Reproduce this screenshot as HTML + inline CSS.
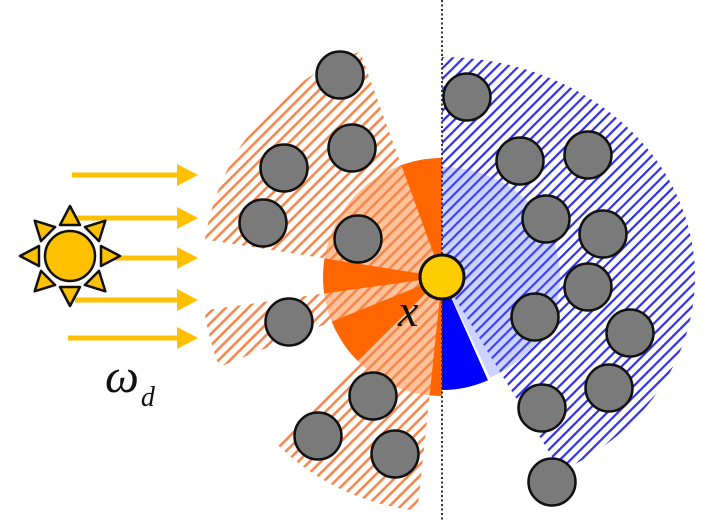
<!DOCTYPE html>
<html><head><meta charset="utf-8"><style>
html,body{margin:0;padding:0;background:#fff;}
svg{display:block;}
</style></head><body>
<svg width="726" height="529" viewBox="0 0 726 529">
<defs>
<pattern id="hatchO" patternUnits="userSpaceOnUse" width="8" height="8" patternTransform="rotate(-45)">
<rect width="8" height="8" fill="rgba(255,255,255,0.6)"/>
<rect width="8" height="2.6" fill="#f5884f"/>
</pattern>
<pattern id="hatchB" patternUnits="userSpaceOnUse" width="7.5" height="7.5" patternTransform="rotate(-45)">
<rect width="7.5" height="2.2" fill="#3030e8"/>
</pattern>
</defs>
<g id="sectors"></g>
<line x1="442" y1="0" x2="442" y2="520" stroke="#333" stroke-width="2" stroke-dasharray="2,2.5"/>
<g id="occluders"></g>
<circle cx="442" cy="277" r="22" fill="#ffcc00" stroke="#111" stroke-width="3"/>
<text x="398" y="326" font-family="'Liberation Serif',serif" font-style="italic" font-size="46" fill="#111">x</text>
<g id="arrows"></g>
<g id="sun"></g>
<text x="105" y="392" font-family="'Liberation Serif',serif" font-style="italic" font-size="48" fill="#111">ω<tspan font-size="28" dx="2" dy="14">d</tspan></text>
</svg>
<script>
const NS='http://www.w3.org/2000/svg';
const cx=442, cy=277;
function P(a,r,ry){const t=a*Math.PI/180;return [cx+r*Math.cos(t),cy+(ry||r)*Math.sin(t)];}
function sector(a0,a1,r,ry){const p0=P(a0,r,ry),p1=P(a1,r,ry);const large=(a1-a0)>180?1:0;
return `M${cx},${cy} L${p0[0]},${p0[1]} A${r},${ry||r} 0 ${large} 1 ${p1[0]},${p1[1]} Z`;}
const g=document.getElementById('sectors');
function add(d,fill,name){const p=document.createElementNS(NS,'path');p.setAttribute('d',d);p.setAttribute('fill',fill);


g.appendChild(p);}
add(sector(-90,62,253,220),'url(#hatchB)','visible-hatched-region');
add(sector(-90,66,118,110),'rgba(90,110,255,0.3)','visible-inner-region');
add(sector(66,90,113),'#0000ff','occluded-inner-blue');
add(sector(90,270,119),'#ff6600','shadow-inner-region');
add(sector(-171,-110,240),'url(#hatchO)','shadow-wedge-upper');
add(sector(158,172,240),'url(#hatchO)','shadow-wedge-middle');
add(sector(96,135,235),'url(#hatchO)','shadow-wedge-lower');
const occX=[340,284,352,263,358,289,373,318,395,467,520,588,546,603,588,535,630,609,542,552];
const occY=[75,168,148,223,239,322,396,436,454,97,161,155,219,234,287,317,333,388,408,482];
const og=document.getElementById('occluders');
for(let i=0;i<occX.length;i++){const c=document.createElementNS(NS,'circle');
c.setAttribute('cx',occX[i]);c.setAttribute('cy',occY[i]);c.setAttribute('r',23.5);
c.setAttribute('fill','#7a7a7a');c.setAttribute('stroke','#111');c.setAttribute('stroke-width','2.5');


og.appendChild(c);}
const arrY=[175,218,258,300,338], arrX0=[72,75,100,75,68];
const ag=document.getElementById('arrows');
for(let i=0;i<arrY.length;i++){const gg=document.createElementNS(NS,'g');


const l=document.createElementNS(NS,'line');l.setAttribute('x1',arrX0[i]);l.setAttribute('x2',180);l.setAttribute('y1',arrY[i]);l.setAttribute('y2',arrY[i]);
l.setAttribute('stroke','#ffc000');l.setAttribute('stroke-width','5');gg.appendChild(l);
const h=document.createElementNS(NS,'polygon');h.setAttribute('points',`177,${arrY[i]-11} 198,${arrY[i]} 177,${arrY[i]+11}`);h.setAttribute('fill','#ffc000');gg.appendChild(h);
ag.appendChild(gg);}
const sg=document.getElementById('sun');const sx=70,sy=256;
for(let k=0;k<8;k++){const a=k*45*Math.PI/180;
const tip=[sx+50*Math.cos(a),sy+50*Math.sin(a)];
const b1=[sx+31*Math.cos(a)-10*Math.sin(a),sy+31*Math.sin(a)+10*Math.cos(a)];
const b2=[sx+31*Math.cos(a)+10*Math.sin(a),sy+31*Math.sin(a)-10*Math.cos(a)];
const t=document.createElementNS(NS,'polygon');t.setAttribute('points',[tip,b1,b2].map(p=>p.join(',')).join(' '));
t.setAttribute('fill','#ffc000');t.setAttribute('stroke','#111');t.setAttribute('stroke-width','2.5');t.setAttribute('stroke-linejoin','round');


sg.appendChild(t);}
const sc=document.createElementNS(NS,'circle');sc.setAttribute('cx',sx);sc.setAttribute('cy',sy);sc.setAttribute('r',25);
sc.setAttribute('fill','#ffc000');sc.setAttribute('stroke','#111');sc.setAttribute('stroke-width','2.5');


sg.appendChild(sc);
</script>
</body></html>
